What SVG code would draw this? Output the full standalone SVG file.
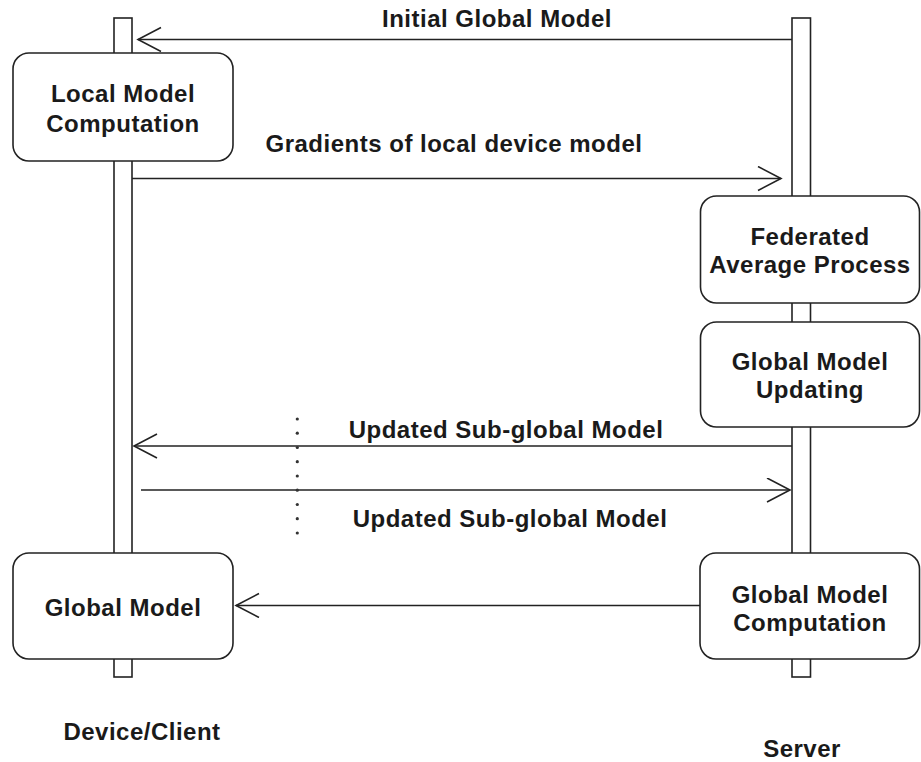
<svg xmlns="http://www.w3.org/2000/svg" width="921" height="762" viewBox="0 0 921 762">
  <style>
    .bg { fill: #ffffff; }
    .life { fill: #ffffff; stroke: #222222; stroke-width: 1.6; }
    .box { fill: #ffffff; stroke: #222222; stroke-width: 1.6; }
    .lbl { font-family: "Liberation Sans", Arial, sans-serif; font-weight: bold; font-size: 24px; letter-spacing: 0.5px; fill: #1a1a1a; text-anchor: middle; }
    .msg { fill: none; stroke: #222222; stroke-width: 1.6; }
    .dot { fill: #333333; }
  </style>
  <defs>
    <marker id="open" viewBox="0 0 26 26" refX="24" refY="12.5" markerWidth="26" markerHeight="26" markerUnits="userSpaceOnUse" orient="auto">
      <path d="M1,0.5 L24,12.5 L1,24.5" fill="none" stroke="#222222" stroke-width="1.6"/>
    </marker>
  </defs>

  <rect class="bg" x="0" y="0" width="921" height="762"/>

  <!-- lifelines -->
  <g id="lifeline-client">
    <rect class="life" x="114" y="18" width="18" height="659"/>
    <text class="lbl" x="142" y="740">Device/Client</text>
  </g>
  <g id="lifeline-server">
    <rect class="life" x="792" y="18" width="18.5" height="659"/>
    <text class="lbl" x="802" y="757">Server</text>
  </g>

  <!-- activity boxes -->
  <g id="local-model-computation">
    <rect class="box" x="13" y="53" width="220" height="108" rx="16"/>
    <text class="lbl" x="123" y="102">Local Model</text>
    <text class="lbl" x="123" y="132">Computation</text>
  </g>
  <g id="federated-average">
    <rect class="box" x="700.5" y="196" width="219" height="107" rx="16"/>
    <text class="lbl" x="810" y="245">Federated</text>
    <text class="lbl" x="810" y="273">Average Process</text>
  </g>
  <g id="global-model-updating">
    <rect class="box" x="700.5" y="322" width="219" height="105" rx="16"/>
    <text class="lbl" x="810" y="370">Global Model</text>
    <text class="lbl" x="810" y="398">Updating</text>
  </g>
  <g id="global-model">
    <rect class="box" x="13" y="553" width="220" height="106" rx="16"/>
    <text class="lbl" x="123" y="616">Global Model</text>
  </g>
  <g id="global-model-computation">
    <rect class="box" x="700" y="553" width="219.5" height="106" rx="16"/>
    <text class="lbl" x="810" y="603">Global Model</text>
    <text class="lbl" x="810" y="631">Computation</text>
  </g>

  <!-- messages -->
  <g id="connectors">
    <line class="msg" x1="792" y1="39.5" x2="138" y2="39.5" marker-end="url(#open)"/>
    <text class="lbl" x="497" y="27">Initial Global Model</text>

    <line class="msg" x1="132" y1="178.5" x2="781" y2="178.5" marker-end="url(#open)"/>
    <text class="lbl" x="454" y="152">Gradients of local device model</text>

    <line class="msg" x1="792" y1="446" x2="134" y2="446" marker-end="url(#open)"/>
    <text class="lbl" x="506" y="438">Updated Sub-global Model</text>

    <line class="msg" x1="141" y1="490" x2="790" y2="490" marker-end="url(#open)"/>
    <text class="lbl" x="510" y="527">Updated Sub-global Model</text>

    <line class="msg" x1="700" y1="605.5" x2="236" y2="605.5" marker-end="url(#open)"/>

    <!-- dotted separator between the two exchanges -->
    <g id="dotted-separator">
      <circle class="dot" cx="297.3" cy="419" r="1.6"/>
      <circle class="dot" cx="297.3" cy="433.2" r="1.6"/>
      <circle class="dot" cx="297.3" cy="447.5" r="1.6"/>
      <circle class="dot" cx="297.3" cy="461.7" r="1.6"/>
      <circle class="dot" cx="297.3" cy="476" r="1.6"/>
      <circle class="dot" cx="297.3" cy="490.2" r="1.6"/>
      <circle class="dot" cx="297.3" cy="504.5" r="1.6"/>
      <circle class="dot" cx="297.3" cy="518.7" r="1.6"/>
      <circle class="dot" cx="297.3" cy="533" r="1.6"/>
    </g>
  </g>
</svg>
